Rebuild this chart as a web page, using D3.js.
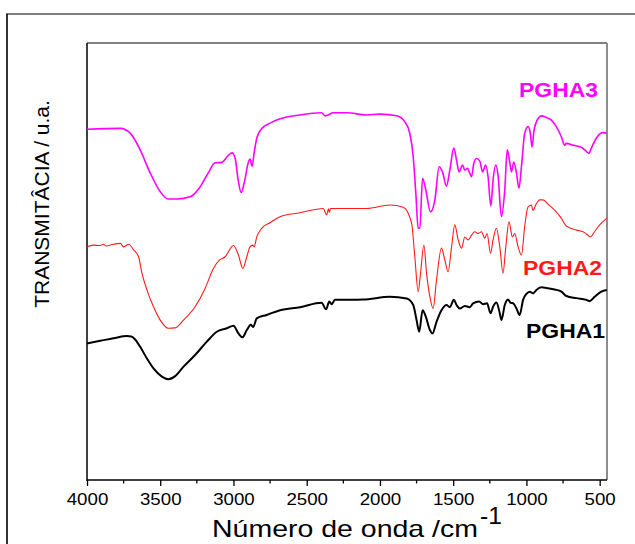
<!DOCTYPE html>
<html>
<head>
<meta charset="utf-8">
<script src="https://cdn.jsdelivr.net/npm/d3@7"></script>
<style>
  body { margin: 0; background: #fff; }
  svg text { font-family: "Liberation Sans", Arial, sans-serif; }
</style>
</head>
<body>
<div class="container"></div>
<script>
// FTIR spectra, [wavenumber cm-1, transmittance a.u.]
var pgha3 = [
  [4000,82.1],[3773,82.3],[3705,81.2],[3637,77.3],[3568,71.9],[3500,67.6],[3446,65.9],[3384,65.9],
  [3296,66.4],[3228,68.7],[3173,71.9],[3125,74.3],[3078,74.4],[3044,75.7],[3010,76.6],[2989,75.4],
  [2968,70.3],[2948,67.4],[2927,69.6],[2900,74.2],[2887,75.2],[2873,73.5],[2859,76.6],[2839,80.3],
  [2805,82.3],[2750,83.5],[2682,84.5],[2546,85.4],[2398,85.9],[2375,85.2],[2354,85.4],[2320,85.9],
  [2227,85.9],[2091,85.4],[2000,85.6],[1886,85.2],[1830,83.8],[1796,81.1],[1773,75.7],[1755,67.2],
  [1739,59.1],[1728,59.2],[1709,70.7],[1687,68.0],[1655,62.9],[1625,65.7],[1596,73.4],[1573,72.2],
  [1546,68.9],[1523,72.6],[1496,77.7],[1477,74.9],[1460,72.2],[1436,73.8],[1421,72.6],[1402,73.0],
  [1387,71.9],[1375,71.1],[1359,74.2],[1341,75.3],[1318,74.7],[1300,72.2],[1278,73.8],[1262,71.1],
  [1243,64.3],[1228,70.3],[1209,73.8],[1194,71.5],[1171,61.8],[1148,68.0],[1131,77.3],[1114,74.5],
  [1102,72.2],[1087,74.5],[1068,71.9],[1051,68.4],[1034,73.4],[1012,81.1],[989,82.7],[973,81.1],
  [962,78.0],[948,81.9],[932,83.8],[898,85.2],[864,84.8],[830,84.2],[796,82.7],[761,80.3],
  [739,78.4],[727,78.8],[682,78.4],[625,77.9],[596,77.1],[573,76.5],[557,77.7],[523,80.0],
  [478,81.3],[452,81.1]
];

var pgha2 = [
  [4000,54.8],[3957,55.2],[3909,55.1],[3889,55.4],[3868,55.0],[3819,55.4],[3773,55.6],[3750,54.8],
  [3716,55.4],[3682,54.1],[3648,52.5],[3625,48.7],[3591,44.8],[3546,40.9],[3500,37.8],[3444,35.9],
  [3398,36.0],[3341,37.8],[3262,40.9],[3193,45.2],[3137,49.8],[3096,51.7],[3057,52.5],[3000,55.1],
  [2966,52.9],[2936,49.8],[2909,52.5],[2887,54.8],[2868,55.2],[2859,54.8],[2841,57.1],[2807,59.1],
  [2750,60.4],[2682,61.8],[2546,62.7],[2387,63.7],[2364,62.2],[2351,63.6],[2345,62.8],[2338,63.7],
  [2227,63.7],[2091,63.7],[1932,64.5],[1841,64.0],[1784,60.3],[1762,52.5],[1739,44.4],[1723,48.7],
  [1700,55.2],[1682,48.7],[1659,43.2],[1637,40.5],[1614,47.1],[1580,54.5],[1557,51.7],[1535,49.0],
  [1511,54.8],[1489,59.9],[1466,56.4],[1443,54.5],[1421,57.1],[1398,56.4],[1375,57.5],[1353,58.3],
  [1330,57.9],[1307,58.3],[1284,56.8],[1269,57.9],[1245,53.3],[1228,56.4],[1205,59.1],[1182,54.8],
  [1160,48.7],[1141,54.8],[1119,60.6],[1096,57.1],[1080,57.9],[1057,54.8],[1034,52.9],[1012,59.5],
  [989,64.1],[966,64.5],[955,63.2],[937,64.5],[909,65.7],[887,65.7],[853,64.7],[807,63.3],
  [761,61.4],[727,59.6],[659,58.7],[603,58.1],[580,57.5],[564,57.1],[535,58.3],[500,59.9],
  [452,61.4]
];

var pgha1 = [
  [4000,32.4],[3909,33.0],[3819,33.6],[3727,34.1],[3698,34.0],[3671,33.3],[3637,31.6],[3591,28.9],
  [3546,26.6],[3489,24.7],[3444,24.1],[3398,24.8],[3341,27.0],[3262,29.7],[3182,32.8],[3114,35.1],
  [3045,35.9],[3000,36.5],[2966,34.7],[2939,33.8],[2909,35.5],[2882,36.7],[2866,36.2],[2841,38.2],
  [2773,39.0],[2682,40.1],[2546,40.8],[2398,41.8],[2368,40.3],[2346,42.1],[2330,41.5],[2307,42.5],
  [2114,42.6],[1932,43.2],[1818,42.8],[1773,41.3],[1750,37.8],[1732,35.1],[1709,40.1],[1687,38.6],
  [1659,35.5],[1641,34.7],[1614,37.4],[1580,40.1],[1546,41.3],[1523,40.8],[1496,42.5],[1477,41.3],
  [1455,40.5],[1421,41.1],[1387,40.8],[1364,41.7],[1323,42.1],[1296,41.5],[1269,41.7],[1245,39.4],
  [1228,40.9],[1205,41.9],[1182,39.4],[1171,37.8],[1148,41.3],[1126,42.6],[1107,41.8],[1091,41.7],
  [1068,40.5],[1046,39.0],[1023,42.5],[1000,43.9],[977,44.4],[955,44.0],[932,44.8],[898,45.4],
  [853,45.2],[807,44.9],[761,44.4],[727,43.4],[659,42.9],[591,42.5],[568,42.2],[535,43.2],
  [489,44.4],[452,44.8]
];

var seriesNames = ['PGHA1', 'PGHA2', 'PGHA3'];
var seriesColors = ['#000000', '#ff1a1a', '#ff00ff'];
var seriesWidths = [2, 1.1, 1.6];
var majorTicks = [4000, 3500, 3000, 2500, 2000, 1500, 1000, 500];
var minorTicks = [3750, 3250, 2750, 2250, 1750, 1250, 750];

const WIDTH = 635;
const HEIGHT = 544;
const LEFT = 87, RIGHT = 607, TOP = 43, BOTTOM = 480;

var svg = d3.select('.container').append('svg')
  .attr('width', WIDTH)
  .attr('height', HEIGHT);

// outer frame (only top and left are visible)
svg.append('line').attr('x1', 6).attr('y1', 14).attr('x2', WIDTH).attr('y2', 14)
  .attr('stroke', '#808080').attr('stroke-width', 2);
svg.append('line').attr('x1', 7).attr('y1', 14).attr('x2', 7).attr('y2', HEIGHT)
  .attr('stroke', '#000').attr('stroke-width', 1.6);

var xScale = d3.scaleLinear().domain([4000, 450]).range([LEFT, RIGHT]);
var yScale = d3.scaleLinear().domain([0.7, 102.1]).range([BOTTOM, TOP]);

// plot box
svg.append('line').attr('x1', LEFT).attr('y1', TOP).attr('x2', RIGHT).attr('y2', TOP)
  .attr('stroke', '#808080').attr('stroke-width', 1.8);
svg.append('line').attr('x1', RIGHT).attr('y1', TOP).attr('x2', RIGHT).attr('y2', BOTTOM)
  .attr('stroke', '#808080').attr('stroke-width', 1.8);
svg.append('line').attr('x1', LEFT).attr('y1', TOP).attr('x2', LEFT).attr('y2', BOTTOM + 1)
  .attr('stroke', '#000').attr('stroke-width', 1.5);

var xAxis = d3.axisBottom(xScale)
  .tickValues(majorTicks)
  .tickFormat(d3.format('d'))
  .tickSize(6)
  .tickSizeOuter(0);
var gx = svg.append('g')
  .attr('transform', 'translate(0,' + BOTTOM + ')')
  .call(xAxis);
gx.select('.domain').attr('stroke-width', 1.5).attr('d', 'M' + LEFT + ',0H' + RIGHT);
gx.selectAll('.tick line').attr('stroke-width', 1.3);
gx.selectAll('.tick text')
  .attr('y', 25).attr('dy', 0)
  .style('font-size', '17px')
  .attr('fill', '#000')
  .attr('textLength', function(d){ return String(d).length * 10.4; })
  .attr('lengthAdjust', 'spacingAndGlyphs');

var gMinor = svg.append('g').attr('transform', 'translate(0,' + BOTTOM + ')');
gMinor.selectAll('line').data(minorTicks).enter().append('line')
  .attr('x1', function(d){ return xScale(d); })
  .attr('x2', function(d){ return xScale(d); })
  .attr('y1', 0).attr('y2', 3.5)
  .attr('stroke', '#000').attr('stroke-width', 1.3);

// axis titles
svg.append('text')
  .attr('x', 212).attr('y', 537)
  .attr('textLength', 266).attr('lengthAdjust', 'spacingAndGlyphs')
  .style('font-size', '24px')
  .text('Número de onda /cm');
svg.append('text')
  .attr('x', 480).attr('y', 524)
  .attr('textLength', 22).attr('lengthAdjust', 'spacingAndGlyphs')
  .style('font-size', '23px')
  .text('-1');

svg.append('text')
  .attr('transform', 'translate(48.5,204) rotate(-90)')
  .attr('text-anchor', 'middle')
  .style('font-size', '21px')
  .text('TRANSMITÂCIA / u.a.');

// spectra
var line = d3.line()
  .x(function(d){ return xScale(d[0]); })
  .y(function(d){ return yScale(d[1]); })
  .curve(d3.curveMonotoneX);

var allSeries = [pgha1, pgha2, pgha3];
svg.append('g').selectAll('path').data(allSeries).enter().append('path')
  .attr('d', function(s){ return line(s); })
  .attr('fill', 'none')
  .attr('stroke', function(s, i){ return seriesColors[i]; })
  .attr('stroke-width', function(s, i){ return seriesWidths[i]; })
  .attr('stroke-linejoin', 'round');

// series labels
var labelPos = [[605, 338], [602, 275], [598, 97]];
svg.append('g').selectAll('text').data(seriesNames).enter().append('text')
  .attr('x', function(d, i){ return labelPos[i][0]; })
  .attr('y', function(d, i){ return labelPos[i][1]; })
  .attr('text-anchor', 'end')
  .attr('textLength', 79).attr('lengthAdjust', 'spacingAndGlyphs')
  .style('font-size', '21px')
  .style('font-weight', 'bold')
  .attr('fill', function(d, i){ return seriesColors[i]; })
  .text(function(d){ return d; });
</script>
</body>
</html>
